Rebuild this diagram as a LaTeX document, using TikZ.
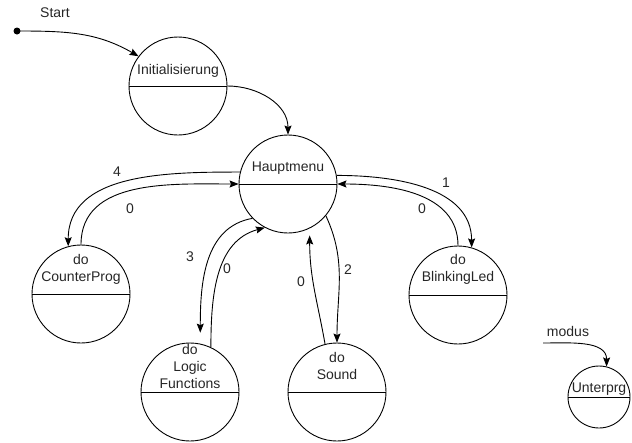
\documentclass[tikz,border=0pt]{standalone}
\usepackage{fontspec}
\setmainfont{Liberation Sans}
\usetikzlibrary{arrows.meta}

\begin{document}
\begin{tikzpicture}[x=1pt, y=1pt, line width=0.9pt,
        zustand/.style={draw, circle, minimum size=98pt, inner sep=0pt},
        klein/.style={draw, circle, minimum size=62pt, inner sep=0pt},
        txt/.style={font=\fontsize{14}{17}\selectfont, align=center, inner sep=0pt, text=black!85},
        pfeil/.style={-{Stealth[length=9pt,width=7pt,inset=1.5pt]}}]

        \useasboundingbox (0,0) rectangle (632,-442);

        % zustaende
        \node[zustand] (init) at (178,-86) {};
        \draw (init.west) -- (init.east);
        \node[txt] (initT) at (178,-71) {Initialisierung};

        \node[zustand] (haupt) at (288,-184) {};
        \draw (haupt.west) -- (haupt.east);
        \node[txt] (hauptT) at (288,-168) {Hauptmenu};

        \node[zustand] (counter) at (81,-294) {};
        \draw (counter.west) -- (counter.east);
        \node[txt] (counterT) at (81,-269) {do\\CounterProg};

        \node[zustand] (logic) at (190,-392) {};
        \draw (logic.west) -- (logic.east);
        \node[txt] (logicT) at (190,-366) {do\\Logic\\Functions};

        \node[zustand] (sound) at (337,-392) {};
        \draw (sound.west) -- (sound.east);
        \node[txt] (soundT) at (337,-366) {do\\Sound};

        \node[zustand] (blink) at (458,-295) {};
        \draw (blink.west) -- (blink.east);
        \node[txt] (blinkT) at (458,-269) {do\\BlinkingLed};

        \node[klein] (unter) at (599,-397) {};
        \draw (unter.west) -- (unter.east);
        \node[txt] (unterT) at (599,-389) {Unterprg};

        % start
        \coordinate (start) at (17,-31);
        \fill (start) circle (3.5pt);
        \node[txt] (startT) at (55,-13) {Start};
        \draw[pfeil] (start) to[out=0, in=150] (init.143);
        \draw[pfeil] (init.east) to[out=0, in=90] (haupt.north);

        % uebergaenge
        \draw[pfeil] (haupt.166) to[out=180, in=90] (counter.105);
        \draw[pfeil] (counter.north) to[out=90, in=180] (haupt.west);
        \node[txt] (l4) at (117,-172) {4};
        \node[txt] (l0a) at (130,-209) {0};

        \draw[pfeil] (haupt.10) to[out=0, in=90] (blink.74);
        \draw[pfeil] (blink.north) to[out=90, in=0] (haupt.east);
        \node[txt] (l1) at (446,-183) {1};
        \node[txt] (l0b) at (422,-209) {0};

        \draw[pfeil] (haupt.-40) to[out=-65, in=90] (sound.north);
        \draw[pfeil] (sound.104) to[out=100, in=-90] ([yshift=-7pt]haupt.-64);
        \node[txt] (l2) at (348,-270) {2};
        \node[txt] (l0c) at (301,-282) {0};

        \draw[pfeil] (haupt.-136) to[out=190, in=90] ([yshift=11pt]logic.78);
        \draw[pfeil] (logic.65) to[out=90, in=195] (haupt.-118);
        \node[txt] (l3) at (190,-257) {3};
        \node[txt] (l0d) at (227,-269) {0};

        % legende
        \coordinate (modus) at (543,-343);
        \node[txt] (modusT) at (568,-331) {modus};
        \draw[pfeil] (modus) to[out=0, in=90] (unter.76);

\end{tikzpicture}
\end{document}
